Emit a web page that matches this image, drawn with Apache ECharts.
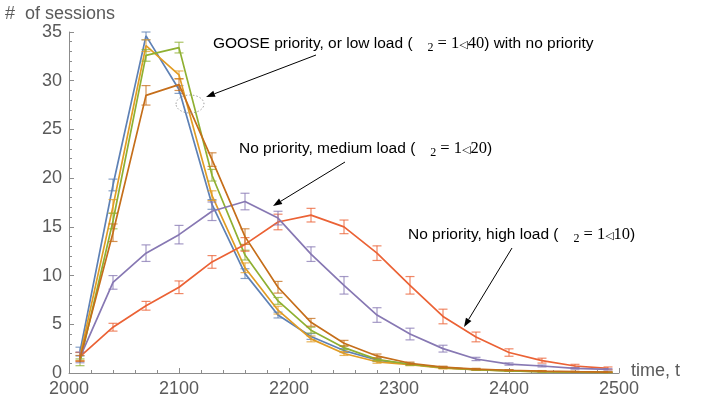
<!DOCTYPE html>
<html><head><meta charset="utf-8">
<script src="https://cdn.jsdelivr.net/npm/echarts@6/dist/echarts.min.js"></script>
<style>html,body{margin:0;padding:0;background:#fff}#c{width:702px;height:400px}</style>
</head><body><div id="c"></div>
<script>
const times = [2010,2040,2070,2100,2130,2160,2190,2220,2250,2280,2310,2340,2370,2400,2430,2460,2490];
const xTicks = [2000,2100,2200,2300,2400,2500];
const yTicks = [0,5,10,15,20,25,30,35];

const blueVals   = [2.2,19.3,34.6,29.1,17.3,10.2,5.95,3.75,2.3,1.33,0.9,0.55,0.35,0.25,0.15,0.1,0.07];
const blueErr    = [0.45,0.6,0.4,0.4,0.5,0.5,0.3,0.3,0.2,0.15,0.1,0.08,0.06,0.05,0.04,0.03,0.03];
const yellowVals = [1.7,17.1,33.6,30.6,18.2,10.8,6.45,3.5,2.0,1.15,0.85,0.5,0.35,0.22,0.15,0.1,0.07];
const yellowErr  = [0.4,0.7,0.6,0.4,0.5,0.5,0.4,0.3,0.2,0.15,0.1,0.08,0.06,0.05,0.04,0.03,0.03];
const greenVals  = [1.1,15.6,32.6,33.4,20.3,12.1,7.4,4.4,2.6,1.4,0.9,0.55,0.35,0.22,0.15,0.1,0.07];
const greenErr   = [0.35,0.8,0.6,0.55,0.6,0.5,0.35,0.3,0.2,0.15,0.1,0.08,0.06,0.05,0.04,0.03,0.03];
const redVals    = [1.67,4.7,6.9,8.8,11.4,13.2,15.5,16.2,15.0,12.3,9.0,5.8,3.7,2.1,1.27,0.72,0.48];
const redErr     = [0.45,0.4,0.45,0.65,0.65,0.7,0.8,0.7,0.7,0.75,0.9,0.75,0.5,0.38,0.25,0.17,0.14];
const purpleVals = [1.6,9.3,12.3,14.2,16.6,17.6,15.9,12.2,9.0,5.95,4.0,2.5,1.44,0.92,0.72,0.48,0.38];
const purpleErr  = [0.55,0.7,0.85,0.95,0.95,0.85,0.7,0.75,0.9,0.75,0.6,0.35,0.17,0.12,0.1,0.08,0.07];
const brownVals  = [1.5,14.4,28.5,29.6,21.9,14.0,8.8,5.2,3.05,1.75,1.0,0.6,0.4,0.28,0.2,0.14,0.1];
const brownErr   = [0.3,0.9,1.0,0.6,0.7,0.8,0.6,0.4,0.3,0.2,0.12,0.1,0.08,0.06,0.05,0.04,0.03];

const seriesDefs = [
  {name:'blue', vals: blueVals, err: blueErr, color:'#5E81B5'},
  {name:'yellow', vals: yellowVals, err: yellowErr, color:'#E19C24'},
  {name:'green', vals: greenVals, err: greenErr, color:'#8FB032'},
  {name:'red', vals: redVals, err: redErr, color:'#EB6235'},
  {name:'purple', vals: purpleVals, err: purpleErr, color:'#8778B3'},
  {name:'brown', vals: brownVals, err: brownErr, color:'#C56E1A'}
];

const chart = echarts.init(document.getElementById('c'), null, {renderer:'canvas'});
const FONT = 'Liberation Sans, Arial, sans-serif';
const series = [];
seriesDefs.forEach((s, i) => {
  const data = times.map((t, k) => [t, s.vals[k], s.err[k]]);
  series.push({
    type:'line', name:s.name, data: data.map(d=>[d[0],d[1]]), showSymbol:false, symbol:'none',
    lineStyle:{color:s.color, width:1.7}, itemStyle:{color:s.color}, z: 3 + i, animation:false, silent:true
  });
  series.push({
    type:'custom', name:s.name+'-err', data: data, z: 3 + i, animation:false, silent:true,
    encode:{x:0, y:1},
    renderItem: function(params, api){
      const t = api.value(0), v = api.value(1), e = api.value(2);
      const top = api.coord([t, v + e]);
      const bot = api.coord([t, v - e]);
      const hw = 4.5;
      const st = {stroke: s.color, lineWidth: 1.2, opacity: 0.75};
      return {type:'group', children:[
        {type:'line', shape:{x1:top[0], y1:top[1], x2:bot[0], y2:bot[1]}, style:st},
        {type:'line', shape:{x1:top[0]-hw, y1:top[1], x2:top[0]+hw, y2:top[1]}, style:st},
        {type:'line', shape:{x1:bot[0]-hw, y1:bot[1], x2:bot[0]+hw, y2:bot[1]}, style:st}
      ]};
    }
  });
});

const axisGray = '#8c8c8c';
const labelGray = '#5a5a5a';
const rich = {
  a:{fontFamily:FONT, fontSize:15.5, color:'#111'},
  s:{fontFamily:'Liberation Serif, serif', fontSize:12, color:'#111', padding:[7,4,0,15]},
  m:{fontFamily:'Liberation Serif, serif', fontSize:16.5, color:'#111'},
  t:{fontFamily:'DejaVu Sans, sans-serif', fontSize:11, color:'#111', padding:[2,0,0,0]}
};
function label(pre, num){
  return '{a|' + pre + '}{s|2}{m|= 1}{t|◁}{m|' + num + '}';
}
function arrow(x1,y1,x2,y2){
  const ang = Math.atan2(y2-y1, x2-x1), L = 9, W = 3.2;
  const bx = x2 - L*Math.cos(ang), by = y2 - L*Math.sin(ang);
  const px = -Math.sin(ang)*W, py = Math.cos(ang)*W;
  return [
    {type:'line', shape:{x1:x1,y1:y1,x2:bx,y2:by}, style:{stroke:'#000', lineWidth:1}, z:20},
    {type:'polygon', shape:{points:[[x2,y2],[bx+px,by+py],[bx-px,by-py]]}, style:{fill:'#000'}, z:20}
  ];
}

const option = {
  animation:false,
  grid:{left:69, right:83, top:32, bottom:27, containLabel:false},
  xAxis:{type:'value', min:2000, max:2500, interval:100,
    axisLine:{show:true, onZero:false, lineStyle:{color:axisGray, width:1}},
    axisTick:{show:true, inside:true, length:5, lineStyle:{color:axisGray}},
    minorTick:{show:true, splitNumber:5, length:3, lineStyle:{color:axisGray}},
    splitLine:{show:false},
    axisLabel:{color:labelGray, fontSize:18, fontFamily:FONT, margin:7,
      formatter:v=> xTicks.indexOf(v)>=0 ? String(v) : ''}
  },
  yAxis:{type:'value', min:0, max:35, interval:5,
    axisLine:{show:true, onZero:false, lineStyle:{color:axisGray, width:1}},
    axisTick:{show:true, inside:true, length:5, lineStyle:{color:axisGray}},
    minorTick:{show:true, splitNumber:5, length:3, lineStyle:{color:axisGray}},
    splitLine:{show:false},
    axisLabel:{color:labelGray, fontSize:18, fontFamily:FONT, margin:7,
      formatter:v=> yTicks.indexOf(v)>=0 ? String(v) : ''}
  },
  series: series,
  graphic: [
    {type:'text', left:5, top:5, style:{text:'#  of sessions', fontSize:18, fontFamily:FONT, fill:labelGray}},
    {type:'text', left:631, top:362, style:{text:'time, t', fontSize:18, fontFamily:FONT, fill:labelGray}},
    {type:'text', x:213, y:44, style:{text:label('GOOSE priority, or low load (', '40') + '{a|) with no priority}', rich:rich, verticalAlign:'middle'}, z:20},
    {type:'text', x:239, y:149, style:{text:label('No priority, medium load (', '20') + '{a|)}', rich:rich, verticalAlign:'middle'}, z:20},
    {type:'text', x:408, y:235, style:{text:label('No priority, high load (', '10') + '{a|)}', rich:rich, verticalAlign:'middle'}, z:20},
    {type:'ellipse', shape:{cx:190, cy:104, rx:14, ry:9}, style:{fill:'none', stroke:'#888', lineWidth:0.8, lineDash:[1.5,2]}, z:20}
  ].concat(arrow(316,55,206,97), arrow(345,162,273,206), arrow(512,248,464,327))
};
chart.setOption(option);
</script></body></html>
